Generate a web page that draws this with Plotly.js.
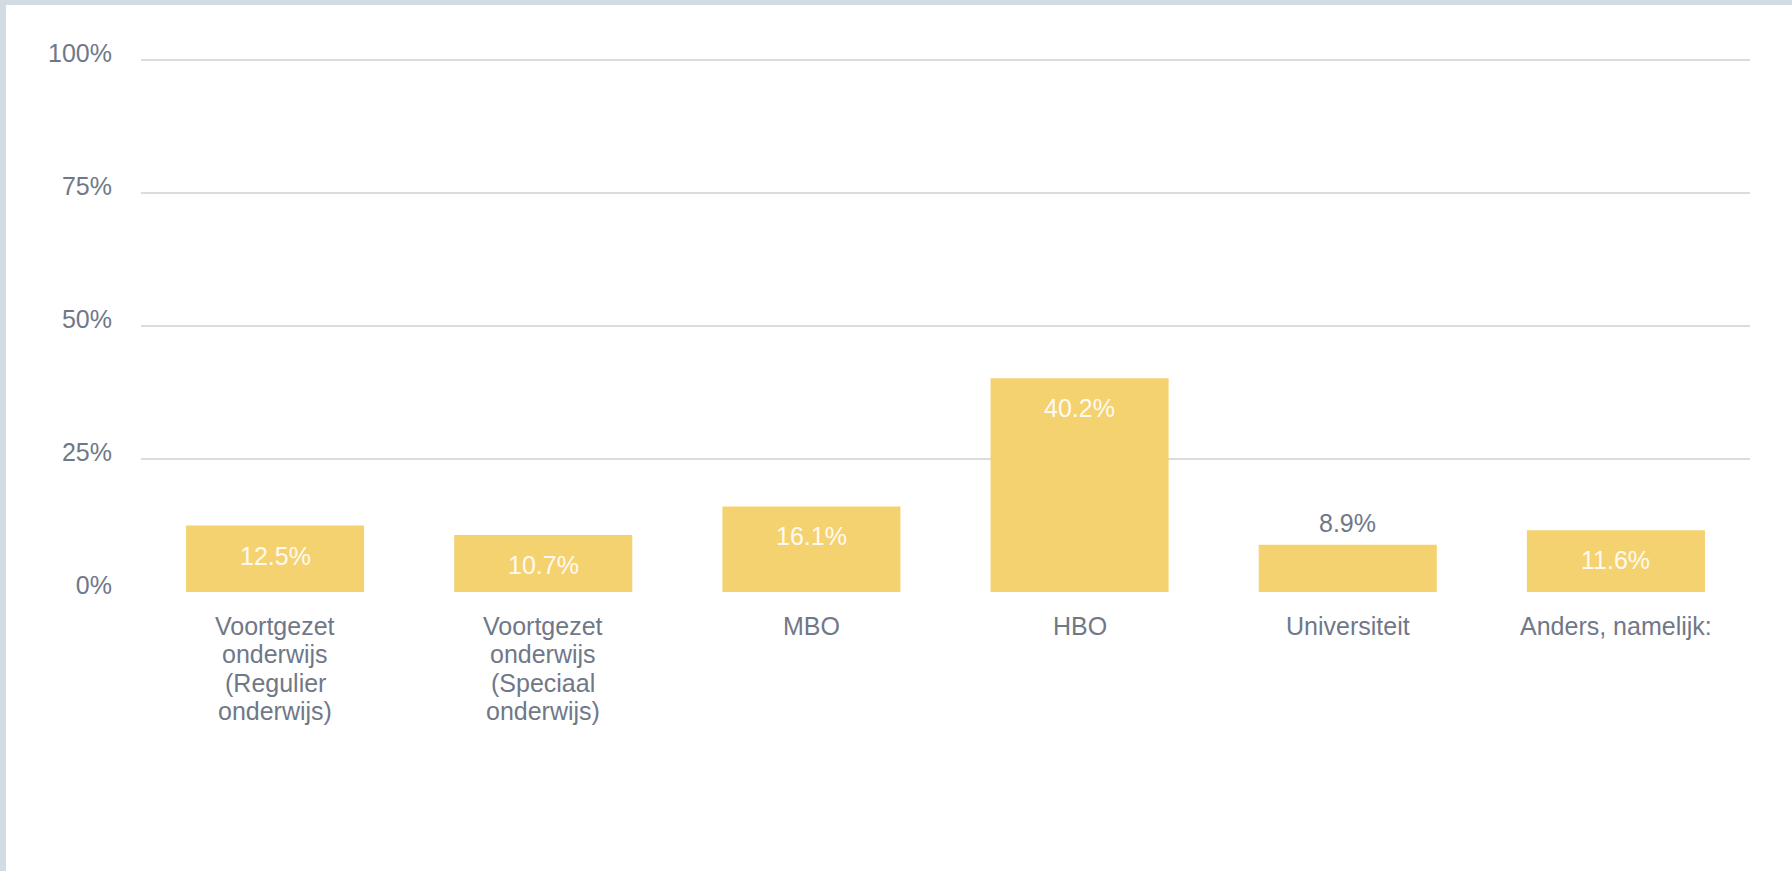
<!DOCTYPE html>
<html>
<head>
<meta charset="utf-8">
<script src="https://cdn.plot.ly/plotly-3.0.1.min.js"></script>
<style>
  html, body { margin: 0; padding: 0; background: #d3dbe5; width: 1792px; height: 871px; overflow: hidden; }
  #chart { position: absolute; left: 6px; top: 5px; width: 1786px; height: 866px; background: #ffffff; }
</style>
</head>
<body>
<div id="chart"></div>
<script>
const categories = [
  'Voortgezet<br>onderwijs<br>(Regulier<br>onderwijs)',
  'Voortgezet<br>onderwijs<br>(Speciaal<br>onderwijs)',
  'MBO',
  'HBO',
  'Universiteit',
  'Anders, namelijk:'
];
const values = [12.5, 10.7, 16.1, 40.2, 8.9, 11.6];
const labelInside = [true, true, true, true, false, true];
const yTickVals = [0, 25, 50, 75, 100];
const yTickText = ['0%', '25%', '50%', '75%', '100%'];

const axisColor = '#707888';
const barColor = '#f5d270';
const fontFamily = '"Liberation Sans", Arial, sans-serif';

// value labels on the bars
const annotations = values.map((v, i) => ({
  x: categories[i],
  y: v,
  xref: 'x',
  yref: 'y',
  text: v.toFixed(1) + '%',
  showarrow: false,
  yanchor: labelInside[i] ? 'top' : 'bottom',
  yshift: labelInside[i] ? -14 : 6,
  font: { family: fontFamily, size: 25, color: labelInside[i] ? '#fffaf0' : axisColor }
}));

// category labels, one line each (tighter line spacing than Plotly's default)
categories.forEach((c) => {
  c.split('<br>').forEach((line, j) => {
    annotations.push({
      x: c,
      y: 0,
      xref: 'x',
      yref: 'paper',
      text: line,
      showarrow: false,
      yanchor: 'top',
      yshift: -17.5 - j * 28.6,
      font: { family: fontFamily, size: 25, color: axisColor }
    });
  });
});

const trace = {
  type: 'bar',
  x: categories,
  y: values,
  marker: { color: barColor },
  hoverinfo: 'none'
};

const layout = {
  width: 1786,
  height: 866,
  paper_bgcolor: '#ffffff',
  plot_bgcolor: '#ffffff',
  margin: { l: 135, r: 42, t: 50.2, b: 278.5 },
  bargap: 0.336,
  showlegend: false,
  font: { family: fontFamily, size: 25, color: axisColor },
  xaxis: {
    type: 'category',
    showgrid: false,
    zeroline: false,
    showline: false,
    ticks: '',
    showticklabels: false,
    fixedrange: true
  },
  yaxis: {
    range: [0, 101],
    tickvals: yTickVals,
    ticktext: yTickText,
    showgrid: true,
    gridcolor: '#dcdcdc',
    gridwidth: 2,
    zeroline: false,
    showline: false,
    ticks: '',
    ticklabelstandoff: 28,
    ticklabelshift: -7,
    tickfont: { family: fontFamily, size: 25, color: axisColor },
    fixedrange: true
  },
  annotations: annotations
};

Plotly.newPlot('chart', [trace], layout, { displayModeBar: false, staticPlot: true });
</script>
</body>
</html>
